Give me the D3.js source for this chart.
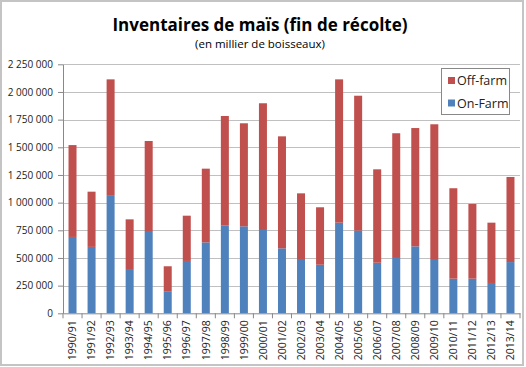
<!DOCTYPE html>
<html><head><meta charset="utf-8">
<script src="https://cdn.jsdelivr.net/npm/d3@7"></script>
<style>html,body{margin:0;padding:0;background:#fff;}svg{display:block;}</style>
</head><body>
<svg id="c" width="526" height="367"></svg>
<script>
const categories = ["1990/91","1991/92","1992/93","1993/94","1994/95","1995/96","1996/97","1997/98","1998/99","1999/00","2000/01","2001/02","2002/03","2003/04","2004/05","2005/06","2006/07","2007/08","2008/09","2009/10","2010/11","2011/12","2012/13","2013/14"];
const onFarm = [690000,600000,1068000,392000,744000,195000,473000,641000,795000,786000,753000,587000,482000,439000,819000,747000,457000,500000,605000,482000,313000,313000,274000,463000];
const totals = [1520000,1099000,2114000,849000,1557000,425000,882000,1307000,1783000,1717000,1898000,1599000,1084000,958000,2114000,1966000,1301000,1627000,1674000,1708000,1130000,988000,819000,1232000];
const offFarm = totals.map((t,i)=>t-onFarm[i]);
const yTicks = [0,250000,500000,750000,1000000,1250000,1500000,1750000,2000000,2250000];
const seriesNames = ["On-Farm","Off-farm"];
const colors = {"On-Farm":"#4f81bd","Off-farm":"#c0504d"};

const svg = d3.select("#c");
const font = "'Open Sans', 'Liberation Sans', sans-serif";
svg.append("rect").attr("x",1).attr("y",1).attr("width",522).attr("height",364)
  .attr("fill","#fff").attr("stroke","#c4c4c4").attr("stroke-width",2);

const L=63, R=520, T=64.3, B=313.3;
const x = d3.scaleBand().domain(categories).range([L,R]).paddingInner(0.58).paddingOuter(0.29);
const y = d3.scaleLinear().domain([0,2250000]).range([B,T]);

// gridlines
svg.append("g").selectAll("line").data(yTicks.slice(1)).join("line")
  .attr("x1",L).attr("x2",R).attr("y1",d=>Math.round(y(d))+0.5).attr("y2",d=>Math.round(y(d))+0.5)
  .attr("stroke","#c0c0c0").attr("stroke-width",1);

// stacked bars
const data = categories.map((c,i)=>({cat:c,"On-Farm":onFarm[i],"Off-farm":offFarm[i]}));
const stack = d3.stack().keys(seriesNames)(data);
svg.append("g").selectAll("g").data(stack).join("g").attr("fill",d=>colors[d.key])
  .selectAll("rect").data(d=>d).join("rect")
  .attr("x",d=>x(d.data.cat)).attr("width",x.bandwidth())
  .attr("y",d=>y(d[1])).attr("height",d=>y(d[0])-y(d[1]));

// y axis
const ya = svg.append("g").attr("transform",`translate(${L},0)`)
  .call(d3.axisLeft(y).tickValues(yTicks).tickFormat(d=>d3.format(",")(d).replace(/,/g," ")).tickSize(5).tickSizeOuter(0));
ya.select(".domain").attr("stroke","#888");
ya.selectAll(".tick line").attr("stroke","#888");
ya.selectAll("text").attr("font-family",font).attr("font-size",10).attr("fill","#222").attr("x",-10);

// x axis
const xa = svg.append("g").attr("transform",`translate(0,${B})`)
  .call(d3.axisBottom(x).tickSize(0).tickSizeOuter(0));
xa.select(".domain").attr("stroke","#888");
xa.selectAll(".tick text").attr("font-family",font).attr("font-size",10.5).attr("fill","#222")
  .attr("transform","rotate(-90)").attr("text-anchor","end").attr("dy","0.35em").attr("x",-7).attr("y",0);
// category boundary ticks
const bounds = categories.map(c=>x(c)-x.step()*x.paddingInner()/2).concat([R]);
svg.append("g").selectAll("line").data(bounds).join("line")
  .attr("x1",d=>d).attr("x2",d=>d).attr("y1",B).attr("y2",B+5).attr("stroke","#888");

// title
svg.append("text").attr("x",260).attr("y",31).attr("text-anchor","middle")
  .attr("font-family",font).attr("font-weight","bold").attr("font-size",17).attr("fill","#000")
  .text("Inventaires de maïs (fin de récolte)");
svg.append("text").attr("x",260).attr("y",48).attr("text-anchor","middle")
  .attr("font-family",font).attr("font-size",11.5).attr("fill","#000")
  .text("(en millier de boisseaux)");

// legend
const lg = svg.append("g");
lg.append("rect").attr("x",441.5).attr("y",68.5).attr("width",68).attr("height",46)
  .attr("fill","#fff").attr("stroke","#888");
const legItems = ["Off-farm","On-Farm"];
legItems.forEach((k,i)=>{
  const yy = 81 + i*22.5;
  lg.append("rect").attr("x",448).attr("y",yy-4).attr("width",7).attr("height",7).attr("fill",colors[k]);
  lg.append("text").attr("x",457).attr("y",yy).attr("dy","0.35em").attr("font-family",font)
    .attr("font-size",12.5).attr("fill","#222").text(k);
});
</script>
</body></html>
